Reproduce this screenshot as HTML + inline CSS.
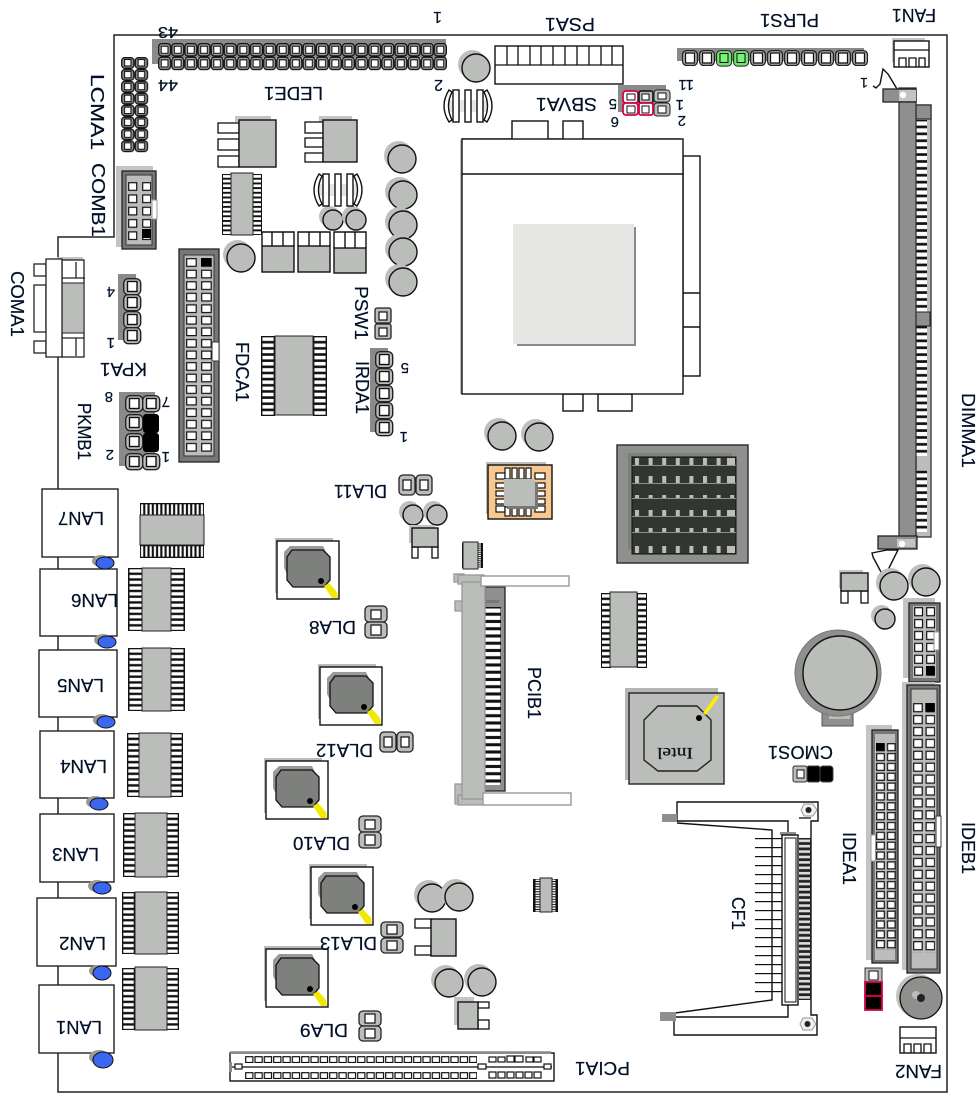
<!DOCTYPE html>
<html><head><meta charset="utf-8"><title>Board layout</title>
<style>
html,body{margin:0;padding:0;background:#fff;width:979px;height:1101px;overflow:hidden}
svg{display:block}
text{font-family:"Liberation Sans",sans-serif;font-size:18px;fill:#001028;stroke:#001028;stroke-width:.2}
.n{font-size:16px}
</style></head><body>
<svg width="979" height="1101" viewBox="0 0 979 1101" xmlns="http://www.w3.org/2000/svg">
<defs>
<pattern id="pv11" width="1" height=".0909" viewBox="0 0 10 10" preserveAspectRatio="none"><rect width="10" height="10" fill="#111"/><rect x="1" y="2.200" width="8" height="5.800" fill="#fff"/></pattern>
<pattern id="pv13" width="1" height=".0769" viewBox="0 0 10 10" preserveAspectRatio="none"><rect width="10" height="10" fill="#111"/><rect x="1" y="2.200" width="8" height="5.800" fill="#fff"/></pattern>
<pattern id="ph15" width=".0667" height="1" viewBox="0 0 10 10" preserveAspectRatio="none"><rect width="10" height="10" fill="#111"/><rect x="2.500" y="1" width="5" height="8" fill="#fff"/></pattern>
<pattern id="lede" patternUnits="userSpaceOnUse" x="158" y="43" width="13.13" height="13.6"><rect x=".7" y=".7" width="11.8" height="12.2" rx="3" fill="#a5a7a4" stroke="#111" stroke-width="1.3"/><rect x="3.200" y="3.200" width="6.800" height="7.200" fill="#fff" stroke="#111" stroke-width="1.1"/></pattern>
<pattern id="lcma" patternUnits="userSpaceOnUse" x="121" y="57" width="13.6" height="11.9"><rect x=".7" y=".7" width="12.2" height="10.5" rx="3" fill="#8e908d" stroke="#111" stroke-width="1.3"/><rect x="3.500" y="2.500" width="6.500" height="6.500" fill="#fff" stroke="#111" stroke-width="1.1"/></pattern>
<pattern id="cF" patternUnits="userSpaceOnUse" x="186" y="258" width="15" height="11.55"><rect x=".7" y=".7" width="9.500" height="7.600" fill="#fff" stroke="#111" stroke-width="1.2"/></pattern>
<pattern id="cB" patternUnits="userSpaceOnUse" x="128" y="182" width="14" height="12.3"><rect x=".7" y=".7" width="8" height="7.600" fill="#fff" stroke="#111" stroke-width="1.2"/></pattern>
<pattern id="cI" patternUnits="userSpaceOnUse" x="913" y="703" width="12.4" height="11.9"><rect x=".7" y=".7" width="8.500" height="8" fill="#fff" stroke="#111" stroke-width="1.2"/></pattern>
<pattern id="cU" patternUnits="userSpaceOnUse" x="914" y="607" width="12" height="11.9"><rect x=".7" y=".7" width="7.800" height="8" fill="#fff" stroke="#111" stroke-width="1.2"/></pattern>
<pattern id="cA" patternUnits="userSpaceOnUse" x="876" y="743" width="10.8" height="9.85"><rect x=".7" y=".7" width="7.600" height="7" fill="#fff" stroke="#111" stroke-width="1.2"/></pattern>
<pattern id="dimm" patternUnits="userSpaceOnUse" x="916" y="120" width="12" height="6.9"><rect width="12" height="6.9" fill="#111"/><rect x=".5" y="1.400" width="10.500" height="4.200" fill="#fff"/></pattern>
<pattern id="cfr" patternUnits="userSpaceOnUse" x="799" y="838" width="12" height="5.4"><rect width="12" height="5.4" fill="#222"/><rect y="1.500" width="11" height="2.600" fill="#ddd"/></pattern>
<pattern id="cfl" patternUnits="userSpaceOnUse" x="757" y="838" width="26" height="9"><rect y="0" width="26" height="1.200" fill="#111"/></pattern>
<pattern id="pcia" patternUnits="userSpaceOnUse" x="245" y="1056" width="9.33" height="16"><rect x=".7" y=".7" width="7.200" height="5.800" fill="#fff" stroke="#111" stroke-width="1.2"/></pattern>
<pattern id="pcib" patternUnits="userSpaceOnUse" x="484" y="607" width="18" height="7.25"><rect width="18" height="7.25" fill="#111"/><rect x="1" y="1.500" width="15.500" height="4.200" fill="#fff"/></pattern>
<pattern id="hs" patternUnits="userSpaceOnUse" x="635" y="0" width="13.6" height="600"><rect width="4" height="600" fill="#bbbdba"/></pattern>
<g id="pin"><rect x=".6" y=".6" width="14.8" height="14.8" rx="4" fill="#bbbdba" stroke="#222" stroke-width="1.3"/><rect x="3.500" y="3" width="9" height="10" fill="#fff" stroke="#111" stroke-width="1.3"/></g>
<g id="pinw"><rect x=".7" y=".7" width="17" height="16" rx="4.500" fill="#bbbdba" stroke="#222" stroke-width="1.4"/><rect x="4.500" y="3.500" width="9.500" height="10" fill="#fff" stroke="#111" stroke-width="1.4"/></g>
<g id="c14"><circle cx="-3.500" cy="-3.500" r="14.5" fill="#bfc0be"/><circle r="14" fill="#bbbdba" stroke="#111" stroke-width="1.4"/></g>
<g id="c10"><circle cx="-3.500" cy="-3.500" r="10.5" fill="#bfc0be"/><circle r="10" fill="#bbbdba" stroke="#111" stroke-width="1.4"/></g>
<g id="coil" stroke="#111" stroke-width="1.4"><rect x="5" y="10" width="44" height="12" fill="#e6e7e5" stroke="none"/><path d="M8 0Q-2 16 8 32L11 30Q4 16 11 2Z" fill="#fff"/><path d="M46 0Q56 16 46 32L43 30Q50 16 43 2Z" fill="#fff"/><rect x="12" y="0" width="6" height="32" fill="#fff"/><rect x="24" y="0" width="6" height="32" fill="#fff"/><rect x="36" y="0" width="6" height="32" fill="#fff"/></g>
<g id="qfp"><rect x="-2" y="-3" width="58" height="55" fill="#bbb"/><rect width="62" height="58" fill="#fff" stroke="#111" stroke-width="1.4"/><path d="M14 6H47L50 12V36H12L8 28V12Z" fill="#999" transform="translate(-1,-1)"/><path d="M15 9H46L53 16V39L47 46H16L10 39V16Z" fill="#7e807d" stroke="#111" stroke-width="1.3"/><circle cx="44" cy="40" r="3" fill="#000"/><path d="M47 45L52 42L60 51L61 57L55 57Z" fill="#f2e800"/></g>
</defs>

<!-- board outline -->
<path d="M114 237V35H947V1092H58V237Z" fill="none" stroke="#222" stroke-width="1.5"/>

<!-- LEDE1 header -->
<rect x="152" y="39" width="294" height="19" fill="#8a8a8a"/>
<rect x="152" y="56" width="8" height="8" fill="#8a8a8a"/>
<rect x="158" y="43" width="289" height="27.2" fill="url(#lede)"/>

<!-- PSA1 -->
<rect x="495" y="46" width="128" height="38" fill="#fff" stroke="#111" stroke-width="1.4"/>
<path d="M495 65H623M507 46V65M518 46V65M530 46V65M541 46V65M553 46V65M565 46V65M577 46V65M589 46V65M601 46V65M612 46V65" stroke="#111" stroke-width="1.3" fill="none"/>

<!-- PLRS1 -->
<rect x="677" y="48" width="187" height="13" fill="#8a8a8a"/>
<g transform="translate(682,50)"><use href="#pin"/></g><g transform="translate(699,50)"><use href="#pin"/></g>
<g transform="translate(716,50)"><rect x=".6" y=".6" width="15" height="15.5" rx="4" fill="#6ee66e" stroke="#222"/><rect x="4" y="3.500" width="8" height="9" fill="#7cf07c" stroke="#111"/></g>
<g transform="translate(733,50)"><rect x=".6" y=".6" width="15" height="15.5" rx="4" fill="#6ee66e" stroke="#222"/><rect x="4" y="3.500" width="8" height="9" fill="#7cf07c" stroke="#111"/></g>
<g transform="translate(750,50)"><use href="#pin"/></g><g transform="translate(767,50)"><use href="#pin"/></g><g transform="translate(784,50)"><use href="#pin"/></g><g transform="translate(801,50)"><use href="#pin"/></g><g transform="translate(818,50)"><use href="#pin"/></g><g transform="translate(835,50)"><use href="#pin"/></g><g transform="translate(852,50)"><use href="#pin"/></g>

<!-- SBVA1 -->
<rect x="618" y="85" width="48" height="27" fill="#8a8a8a"/>
<g fill="#bbbdba" stroke="#222"><rect x="654" y="90" width="16" height="12" rx="3"/><rect x="654" y="103" width="16" height="13" rx="3"/></g>
<g fill="#fff" stroke="#d8004a" stroke-width="1.8"><rect x="623" y="91" width="15" height="12" rx="3"/><rect x="623" y="103" width="15" height="12" rx="3"/><rect x="639" y="91" width="14" height="12" rx="2" fill="#bbbdba" stroke="#222"/><rect x="639" y="103" width="14" height="12" rx="2"/></g>
<g fill="#fff"><rect x="627" y="94" width="8" height="6" stroke="#111"/><rect x="627" y="106" width="8" height="7" stroke="#111"/><rect x="642" y="94" width="7" height="6" stroke="#111"/><rect x="642" y="106" width="7" height="7" stroke="#111"/><rect x="658" y="93" width="8" height="6" stroke="#111"/><rect x="658" y="106" width="8" height="7" stroke="#111"/></g>

<!-- FAN1 -->
<rect x="892" y="38" width="33" height="24" fill="#c4c5c3"/>
<rect x="894" y="41" width="35" height="26" fill="#fff" stroke="#111" stroke-width="1.4"/>
<path d="M894 50H929M899 67V58H906V67M909 67V58H916V67M919 67V58H925V67" fill="none" stroke="#111" stroke-width="1.3"/>

<!-- DIMM -->
<path d="M873 86L876 88L880 84L883 69L888 74L897 89" fill="#fff" stroke="#111" stroke-width="1.4"/>
<rect x="916" y="105" width="15" height="432" fill="#bbbdba" stroke="#333" stroke-width="1.3"/>
<rect x="916" y="105" width="15" height="14" fill="#8e908d" stroke="#333" stroke-width="1.3"/>
<rect x="916" y="120" width="11" height="192" fill="url(#dimm)"/>
<rect x="916" y="326" width="11" height="130" fill="url(#dimm)"/>
<rect x="916" y="470" width="11" height="63" fill="url(#dimm)"/>
<rect x="916" y="312" width="14" height="14" fill="#8e908d" stroke="#222"/>
<rect x="899" y="88" width="17" height="449" fill="#8e908d" stroke="#333" stroke-width="1.3"/>
<rect x="883" y="89" width="33" height="13" fill="#8e908d" stroke="#222" stroke-width="1.3"/>
<rect x="899" y="90" width="17" height="11" fill="#c4c5c3"/><circle cx="903" cy="95" r="3.200" fill="#fff"/>
<path d="M872 553L887 550H898L888 570L881 572L873 557Z" fill="#fff" stroke="#111" stroke-width="1.4"/>
<rect x="878" y="536" width="39" height="13" fill="#8e908d" stroke="#222" stroke-width="1.3"/>
<rect x="897" y="539" width="18" height="8" fill="#c4c5c3"/><circle cx="902" cy="544" r="3.200" fill="#fff"/>

<!-- LCMA1 -->
<rect x="121" y="57" width="27.2" height="95.2" fill="url(#lcma)"/>

<!-- COMB1 -->
<rect x="116" y="166" width="37" height="81" fill="#c4c5c3"/>
<rect x="122" y="171" width="34" height="78" fill="#777" stroke="#222" stroke-width="1.3"/>
<rect x="126" y="175" width="26" height="70" fill="#bbbdba" stroke="#333"/>
<rect x="128" y="182" width="23" height="60" fill="url(#cB)"/>
<rect x="142" y="229" width="9" height="9" fill="#000"/>
<rect x="152" y="200" width="5" height="19" fill="#fff" stroke="#999"/>

<!-- top-left regulators -->
<g fill="#c4c5c3"><rect x="235" y="116" width="36" height="6"/><rect x="319" y="116" width="33" height="6"/></g>
<g fill="#fff" stroke="#111" stroke-width="1.3"><rect x="218" y="123" width="21" height="10"/><rect x="218" y="139" width="21" height="11"/><rect x="218" y="156" width="21" height="11"/><rect x="305" y="122" width="18" height="11"/><rect x="305" y="138" width="18" height="9"/><rect x="305" y="153" width="18" height="9"/></g>
<rect x="239" y="120" width="37" height="47" fill="#bbbdba" stroke="#111" stroke-width="1.4"/>
<rect x="323" y="120" width="34" height="42" fill="#bbbdba" stroke="#111" stroke-width="1.4"/>

<!-- ICs -->
<rect x="222" y="174" width="10" height="61" fill="url(#pv13)"/><rect x="252" y="174" width="10" height="61" fill="url(#pv13)"/><rect x="231" y="173" width="22" height="62" fill="#bbbdba" stroke="#222"/>
<rect x="261" y="336" width="14" height="80" fill="url(#pv13)"/><rect x="313" y="336" width="14" height="80" fill="url(#pv13)"/><rect x="275" y="336" width="38" height="79" fill="#bbbdba" stroke="#222"/>
<rect x="601" y="593" width="10" height="75" fill="url(#pv13)"/><rect x="637" y="593" width="10" height="75" fill="url(#pv13)"/><rect x="610" y="592" width="27" height="75" fill="#bbbdba" stroke="#222"/>

<rect x="128" y="568" width="15" height="63" fill="url(#pv11)"/><rect x="170" y="568" width="15" height="63" fill="url(#pv11)"/><rect x="142" y="568" width="29" height="63" fill="#bbbdba" stroke="#222"/>
<rect x="128" y="648" width="15" height="63" fill="url(#pv11)"/><rect x="170" y="648" width="15" height="63" fill="url(#pv11)"/><rect x="142" y="648" width="29" height="63" fill="#bbbdba" stroke="#222"/>
<rect x="127" y="733" width="13" height="64" fill="url(#pv11)"/><rect x="170" y="733" width="13" height="64" fill="url(#pv11)"/><rect x="139" y="733" width="32" height="64" fill="#bbbdba" stroke="#222"/>
<rect x="123" y="813" width="13" height="64" fill="url(#pv11)"/><rect x="166" y="813" width="13" height="64" fill="url(#pv11)"/><rect x="135" y="813" width="32" height="64" fill="#bbbdba" stroke="#222"/>
<rect x="122" y="892" width="13" height="62" fill="url(#pv11)"/><rect x="166" y="892" width="13" height="62" fill="url(#pv11)"/><rect x="135" y="892" width="32" height="62" fill="#bbbdba" stroke="#222"/>
<rect x="122" y="968" width="13" height="62" fill="url(#pv11)"/><rect x="166" y="968" width="13" height="62" fill="url(#pv11)"/><rect x="135" y="967" width="32" height="63" fill="#bbbdba" stroke="#222"/>

<rect x="140" y="503" width="64" height="13" fill="url(#ph15)"/><rect x="140" y="545" width="64" height="13" fill="url(#ph15)"/><rect x="140" y="515" width="64" height="30" fill="#bbbdba" stroke="#222"/>

<!-- trio -->
<g fill="#fff" stroke="#111" stroke-width="1.4"><path d="M262 246V232H272V246M272 232H283V246M283 232H294V246M298 246V232H309V246M309 232H320V246M320 232H330V246M334 248V232H345V248M345 232H355V248M355 232H366V248"/></g>
<rect x="262" y="246" width="32" height="26" fill="#bbbdba" stroke="#111" stroke-width="1.4"/>
<rect x="298" y="246" width="32" height="26" fill="#bbbdba" stroke="#111" stroke-width="1.4"/>
<rect x="334" y="248" width="32" height="25" fill="#bbbdba" stroke="#111" stroke-width="1.4"/>

<!-- caps -->
<use href="#c14" x="476" y="68"/><use href="#c14" x="402" y="159"/><use href="#c14" x="403" y="195"/><use href="#c14" x="403" y="225"/><use href="#c14" x="403" y="252"/><use href="#c14" x="403" y="282"/>
<use href="#c10" x="333" y="220"/><use href="#c10" x="356" y="220"/><use href="#c14" x="241" y="258"/>
<use href="#c14" x="502" y="436"/><use href="#c14" x="539" y="437"/><use href="#c10" x="413" y="515"/><use href="#c10" x="437" y="515"/>
<use href="#c14" x="894" y="586"/><use href="#c14" x="926" y="582"/><use href="#c10" x="885" y="619"/>
<use href="#c14" x="432" y="898"/><use href="#c14" x="459" y="897"/><use href="#c14" x="449" y="983"/><use href="#c14" x="482" y="982"/>

<use href="#coil" x="441" y="90"/><use href="#coil" x="311" y="174"/>

<!-- FDCA header -->
<rect x="179" y="249" width="40" height="213" fill="#777" stroke="#222" stroke-width="1.3"/>
<rect x="184" y="255" width="30" height="201" fill="#bbbdba" stroke="#333"/>
<rect x="186" y="258" width="27" height="196" fill="url(#cF)"/>
<rect x="201" y="258" width="10" height="8" fill="#000"/>
<rect x="212" y="342" width="7" height="19" fill="#fff" stroke="#333"/>

<!-- COMA1 -->
<rect x="57" y="257" width="26" height="5" fill="#c4c5c3"/>
<g fill="#fff" stroke="#222" stroke-width="1.3"><rect x="34" y="264" width="12" height="12"/><rect x="34" y="341" width="12" height="12"/><rect x="34" y="285" width="12" height="47"/><rect x="62" y="260" width="22" height="97"/></g>
<rect x="62" y="283" width="22" height="50" fill="#bbbdba" stroke="#222"/>
<path d="M62 278H85M62 338H84M76 262V278M76 338V356" stroke="#222" fill="none" stroke-width="1.3"/>
<rect x="46" y="259" width="16" height="98" fill="#fff" stroke="#222" stroke-width="1.3"/>

<!-- KPA1 -->
<rect x="118" y="274" width="18" height="66" fill="#8a8a8a"/>
<use href="#pinw" x="123" y="278"/><use href="#pinw" x="123" y="294"/><use href="#pinw" x="123" y="311"/><use href="#pinw" x="123" y="327"/>

<!-- PKMB1 -->
<rect x="119" y="392" width="36" height="74" fill="#8a8a8a"/>
<use href="#pinw" x="125" y="395"/><use href="#pinw" x="142" y="395"/><use href="#pinw" x="125" y="414"/><use href="#pinw" x="125" y="433"/><use href="#pinw" x="125" y="453"/><use href="#pinw" x="142" y="453"/>
<rect x="143" y="414" width="16" height="19" rx="3" fill="#000"/><rect x="143" y="433" width="16" height="19" rx="3" fill="#000"/>

<!-- PSW1, IRDA1 -->
<g fill="#bbbdba" stroke="#222" stroke-width="1.3"><rect x="375" y="308" width="16" height="15" rx="2"/><rect x="375" y="324" width="16" height="15" rx="2"/></g>
<g fill="#fff" stroke="#111" stroke-width="1.2"><rect x="379" y="312" width="8" height="8"/><rect x="379" y="328" width="8" height="8"/></g>
<rect x="370" y="348" width="18" height="84" fill="#8a8a8a"/>
<use href="#pinw" x="375" y="351"/><use href="#pinw" x="375" y="368"/><use href="#pinw" x="375" y="385"/><use href="#pinw" x="375" y="402"/><use href="#pinw" x="375" y="419"/>

<!-- CPU socket -->
<rect x="461" y="138" width="220" height="3" fill="#bbb"/><rect x="460" y="140" width="2" height="254" fill="#bbb"/>
<g fill="#fff" stroke="#111" stroke-width="1.4"><rect x="512" y="121" width="36" height="20"/><rect x="563" y="121" width="20" height="20"/><rect x="563" y="394" width="20" height="17"/><rect x="598" y="394" width="34" height="17"/><rect x="683" y="156" width="17" height="220"/><rect x="462" y="139" width="221" height="255"/></g>
<path d="M462 174H683M683 293H700M683 327H700" stroke="#111" stroke-width="1.4"/>
<rect x="517" y="227" width="119" height="119" fill="#8a8a8a"/>
<rect x="513" y="224" width="121" height="120" fill="#e6e7e5"/>

<!-- orange chip -->
<rect x="486" y="462" width="60" height="52" fill="#bbb"/>
<rect x="488" y="465" width="64" height="54" fill="#f9c890" stroke="#111" stroke-width="1.4"/>
<g fill="#fff" stroke="#111" stroke-width="1.2"><rect x="496" y="473" width="9" height="6"/><rect x="496" y="483" width="9" height="5"/><rect x="496" y="491" width="9" height="5"/><rect x="496" y="499" width="9" height="5"/><rect x="496" y="506" width="9" height="6"/><rect x="535" y="473" width="10" height="6"/><rect x="535" y="483" width="10" height="5"/><rect x="535" y="491" width="10" height="5"/><rect x="535" y="499" width="10" height="5"/><rect x="535" y="506" width="10" height="6"/><rect x="505" y="468" width="5" height="11"/><rect x="512" y="468" width="5" height="11"/><rect x="519" y="468" width="5" height="11"/><rect x="526" y="468" width="5" height="11"/><rect x="505" y="507" width="5" height="9"/><rect x="512" y="507" width="5" height="9"/><rect x="519" y="507" width="5" height="9"/><rect x="526" y="507" width="5" height="9"/></g>
<rect x="507" y="482" width="31" height="27" fill="#777"/>
<rect x="504" y="479" width="31" height="27" fill="#bbbdba"/>

<!-- heatsink -->
<rect x="617" y="445" width="131" height="118" fill="#8e908d" stroke="#333" stroke-width="1.5"/>
<rect x="628" y="453" width="104" height="96" fill="#7e807d"/>
<rect x="632" y="457" width="104" height="97" fill="#333530" stroke="#111"/>
<rect x="635" y="458" width="100" height="7" fill="url(#hs)"/><rect x="635" y="476" width="100" height="7" fill="url(#hs)"/><rect x="635" y="495" width="100" height="3" fill="url(#hs)"/><rect x="635" y="510" width="100" height="6" fill="url(#hs)"/><rect x="635" y="528" width="100" height="4" fill="url(#hs)"/><rect x="635" y="546" width="100" height="7" fill="url(#hs)"/>
<path d="M632 465.5H736M632 483.5H736M632 498.5H736M632 516.5H736M632 532.5H736" stroke="#8e908d"/>
<g fill="#bbbdba"><rect x="727" y="458" width="8" height="7"/><rect x="727" y="476" width="8" height="7"/><rect x="727" y="510" width="8" height="6"/><rect x="727" y="546" width="8" height="7"/></g>

<!-- SOTs -->
<g fill="#fff" stroke="#111" stroke-width="1.3"><rect x="412" y="547" width="6" height="11"/><rect x="432" y="547" width="6" height="11"/><rect x="841" y="591" width="7" height="12"/><rect x="861" y="591" width="7" height="12"/><rect x="415" y="919" width="16" height="9"/><rect x="415" y="946" width="16" height="9"/><rect x="478" y="1002" width="11" height="6"/><rect x="478" y="1020" width="11" height="9"/></g>
<rect x="409" y="525" width="26" height="18" fill="#c4c5c3"/><rect x="839" y="570" width="24" height="18" fill="#c4c5c3"/><rect x="454" y="997" width="20" height="28" fill="#c4c5c3"/>
<g fill="#bbbdba" stroke="#111" stroke-width="1.4"><rect x="412" y="528" width="26" height="19"/><rect x="841" y="573" width="27" height="18"/><rect x="431" y="919" width="25" height="37"/><rect x="458" y="1002" width="20" height="27"/></g>

<!-- small ICs -->
<rect x="462" y="543" width="21" height="25" fill="url(#pv13)"/><rect x="463" y="542" width="15" height="27" fill="#bbbdba" stroke="#222"/>
<rect x="533" y="879" width="25" height="33" fill="url(#pv13)"/><rect x="540" y="878" width="12" height="34" fill="#bbbdba" stroke="#222"/>

<!-- PCIB1 -->
<rect x="485" y="587" width="20" height="204" fill="#8e908d" stroke="#222" stroke-width="1.3"/>
<rect x="484" y="607" width="17" height="178" fill="url(#pcib)"/>
<rect x="484" y="600" width="15" height="3" fill="#777"/>
<g fill="#bbbdba" stroke="#999" stroke-width="1.3"><rect x="454" y="574" width="10" height="8"/><rect x="458" y="575" width="26" height="9"/><rect x="455" y="601" width="8" height="10"/><rect x="455" y="784" width="8" height="20"/><rect x="458" y="795" width="26" height="10"/><rect x="462" y="582" width="23" height="217"/></g>
<rect x="481" y="576" width="88" height="10" fill="#fff" stroke="#999" stroke-width="1.4"/>
<rect x="483" y="793" width="88" height="12" fill="#fff" stroke="#999" stroke-width="1.4"/>

<!-- Intel -->
<rect x="625" y="688" width="93" height="92" fill="#b5b5b5"/>
<rect x="629" y="693" width="95" height="91" fill="#bbbdba" stroke="#222" stroke-width="1.4"/>
<path d="M658 706H697L711 720V760L697 771H658L644 760V720Z" fill="#bbbdba" stroke="#222" stroke-width="1.4"/>
<path d="M703 713L716 695L719 697L706 715Z" fill="#ffee00"/>
<circle cx="699" cy="718" r="3" fill="#000"/>
<text transform="translate(693,748) rotate(180)" textLength="36" lengthAdjust="spacingAndGlyphs" style="font-family:'Liberation Serif',serif;font-size:16px;fill:#111">Intel</text>

<!-- QFPs -->
<use href="#qfp" x="277" y="541"/><use href="#qfp" x="320" y="667"/><use href="#qfp" x="266" y="761"/><use href="#qfp" x="311" y="867"/><use href="#qfp" x="266" y="949"/>

<!-- DLA jumpers -->
<g id="dj"><g fill="#bbbdba" stroke="#222" stroke-width="1.3">
<rect x="365" y="606" width="22" height="16" rx="4"/><rect x="365" y="622" width="22" height="16" rx="4"/>
<rect x="359" y="816" width="22" height="16" rx="4"/><rect x="359" y="832" width="22" height="16" rx="4"/>
<rect x="381" y="922" width="22" height="15" rx="4"/><rect x="381" y="938" width="22" height="15" rx="4"/>
<rect x="359" y="1011" width="22" height="15" rx="4"/><rect x="359" y="1026" width="22" height="15" rx="4"/>
<rect x="399" y="475" width="16" height="20" rx="4"/><rect x="416" y="475" width="16" height="20" rx="4"/>
<rect x="380" y="732" width="16" height="20" rx="4"/><rect x="397" y="732" width="16" height="20" rx="4"/></g>
<g fill="#fff" stroke="#111" stroke-width="1.2">
<rect x="371" y="610" width="10" height="9"/><rect x="371" y="625" width="10" height="10"/>
<rect x="365" y="820" width="10" height="9"/><rect x="365" y="835" width="10" height="10"/>
<rect x="387" y="925" width="10" height="9"/><rect x="387" y="941" width="10" height="9"/>
<rect x="365" y="1014" width="10" height="9"/><rect x="365" y="1029" width="10" height="9"/>
<rect x="403" y="480" width="8" height="10"/><rect x="420" y="480" width="8" height="10"/>
<rect x="384" y="737" width="8" height="10"/><rect x="401" y="737" width="8" height="10"/></g></g>

<!-- LAN boxes -->
<g fill="#fff" stroke="#222" stroke-width="1.4"><rect x="42" y="489" width="76" height="68"/><rect x="40" y="569" width="77" height="67"/><rect x="39" y="650" width="78" height="67"/><rect x="40" y="731" width="74" height="67"/><rect x="40" y="814" width="74" height="68"/><rect x="37" y="898" width="79" height="68"/><rect x="39" y="985" width="75" height="68"/></g>
<g fill="#9a9a9a"><ellipse cx="101" cy="561" rx="9" ry="6"/><ellipse cx="103" cy="640" rx="9" ry="6"/><ellipse cx="102" cy="720" rx="9" ry="6"/><ellipse cx="95" cy="802" rx="9" ry="6"/><ellipse cx="97" cy="886" rx="9" ry="6"/><ellipse cx="98" cy="971" rx="9" ry="6"/><ellipse cx="99" cy="1057" rx="10" ry="7"/></g>
<g fill="#3a66f0" stroke="#111" stroke-width="1"><ellipse cx="105" cy="563" rx="9" ry="6"/><ellipse cx="107" cy="642" rx="9" ry="6"/><ellipse cx="106" cy="722" rx="9" ry="6"/><ellipse cx="99" cy="804" rx="9" ry="6"/><ellipse cx="102" cy="888" rx="9" ry="6"/><ellipse cx="102" cy="973" rx="9" ry="7"/><ellipse cx="103" cy="1060" rx="10" ry="8"/></g>

<!-- PCIA1 -->
<rect x="230" y="1053" width="324" height="28" fill="#fff" stroke="#111" stroke-width="1.4"/>
<path d="M230 1052.5H551" stroke="#888" stroke-width="2.5"/><path d="M230 1067H552" stroke="#666" stroke-width="2"/>
<rect x="229" y="1062" width="3" height="10" fill="#888"/>
<rect x="245" y="1056" width="232" height="7" fill="url(#pcia)"/><rect x="245" y="1072" width="232" height="7" fill="url(#pcia)"/>
<g fill="#fff" stroke="#111" stroke-width="1.2"><rect x="489" y="1057" width="7" height="5"/><rect x="498" y="1057" width="7" height="5"/><rect x="507" y="1056" width="7" height="6"/><rect x="515" y="1056" width="8" height="6"/><rect x="526" y="1057" width="7" height="5"/><rect x="534" y="1057" width="7" height="5"/><rect x="489" y="1072" width="7" height="6"/><rect x="498" y="1072" width="7" height="6"/><rect x="507" y="1072" width="7" height="6"/><rect x="516" y="1072" width="7" height="6"/><rect x="525" y="1072" width="7" height="6"/><rect x="534" y="1072" width="7" height="6"/><rect x="235" y="1064" width="7" height="5"/><rect x="478" y="1064" width="8" height="5"/><rect x="544" y="1064" width="7" height="5"/></g>

<!-- CF1 -->
<path d="M677 822V802H818V821H811V1015H817V1035H674V1017H788V1005M788 835V821H677M677 823L772 830V1000L675 1013" fill="#fff" stroke="#111" stroke-width="1.4"/>
<path d="M799 818H811" stroke="#111" stroke-width="1.3"/>
<rect x="662" y="814" width="15" height="8" fill="#8e908d"/><rect x="660" y="1012" width="16" height="9" fill="#8e908d"/>
<rect x="755" y="838" width="27" height="160" fill="url(#cfl)"/>
<rect x="799" y="838" width="12" height="162" fill="url(#cfr)"/>
<rect x="780" y="832" width="16" height="3" fill="#8e908d"/>
<rect x="782" y="835" width="16" height="170" fill="#fff" stroke="#111" stroke-width="1.4"/>
<rect x="785" y="838" width="11" height="164" fill="#fff" stroke="#111"/>
<g><path d="M801 810L804 804H813L817 810L813 816H804Z" fill="#eee" stroke="#999"/><circle cx="808.500" cy="810" r="3" fill="#222"/><path d="M800 1024L803 1018H812L816 1024L812 1030H803Z" fill="#eee" stroke="#999"/><circle cx="807.500" cy="1024" r="3" fill="#222"/></g>

<!-- CMOS pins -->
<rect x="793" y="766" width="14" height="16" rx="2" fill="#bbbdba" stroke="#333"/><rect x="797" y="770" width="7" height="8" fill="#fff" stroke="#111"/>
<rect x="807" y="766" width="13" height="16" rx="2" fill="#000" stroke="#444"/><rect x="820" y="766" width="13" height="16" rx="3" fill="#000" stroke="#444"/>

<!-- battery -->
<rect x="822" y="708" width="31" height="18" fill="#8e908d" stroke="#555"/>
<rect x="829" y="711" width="21" height="8" fill="#bbbdba"/>
<circle cx="838" cy="673" r="43" fill="#8e908d" stroke="#777"/>
<circle cx="840" cy="673" r="37" fill="#bbbdba" stroke="#111" stroke-width="1.4"/>

<!-- upper right connector -->
<rect x="903" y="598" width="32" height="80" fill="#c4c5c3"/>
<rect x="909" y="603" width="31" height="79" fill="#777" stroke="#222" stroke-width="1.3"/>
<rect x="913" y="606" width="23" height="72" fill="#bbbdba"/>
<rect x="914" y="607" width="21" height="70" fill="url(#cU)"/>
<rect x="926" y="666" width="8.500" height="9" fill="#000"/>
<rect x="934" y="632" width="5" height="18" fill="#fff" stroke="#999"/>

<!-- IDEB1 -->
<rect x="902" y="682" width="33" height="288" fill="#c4c5c3"/>
<rect x="907" y="685" width="33" height="288" fill="#777" stroke="#222" stroke-width="1.3"/>
<rect x="911" y="689" width="26" height="280" fill="#bbbdba" stroke="#333"/>
<rect x="913" y="703" width="22" height="250" fill="url(#cI)"/>
<rect x="925.400" y="703" width="9" height="8.500" fill="#000"/>
<rect x="936" y="816" width="5" height="31" fill="#fff" stroke="#333"/>

<!-- IDEA1 -->
<rect x="866" y="725" width="26" height="235" fill="#c4c5c3"/>
<rect x="872" y="730" width="26" height="233" fill="#777" stroke="#222" stroke-width="1.3"/>
<rect x="875" y="734" width="20" height="226" fill="#bbbdba"/>
<rect x="876" y="743" width="21" height="207" fill="url(#cA)"/>
<rect x="876" y="743" width="8" height="7.500" fill="#000"/>
<rect x="871" y="835" width="4.500" height="26" fill="#fff" stroke="#999"/>

<!-- red jumper -->
<rect x="865" y="968" width="17" height="14" fill="#bbbdba" stroke="#333"/><rect x="869" y="971" width="9" height="9" fill="#fff" stroke="#111"/>
<rect x="865" y="982" width="17" height="14" fill="#000" stroke="#d8004a" stroke-width="1.8"/><rect x="865" y="996" width="17" height="14" fill="#000" stroke="#d8004a" stroke-width="1.8"/>

<!-- fan 2 hub -->
<circle cx="918" cy="996" r="22" fill="#c4c5c3"/>
<circle cx="921" cy="998" r="21" fill="#8e908d" stroke="#111" stroke-width="1.3"/>
<circle cx="916" cy="995" r="4" fill="#bbbdba"/><circle cx="921" cy="998" r="4" fill="#222"/>

<!-- FAN2 -->
<rect x="900" y="1027" width="36" height="26" fill="#fff" stroke="#111" stroke-width="1.4"/>
<path d="M900 1038H936M904 1053V1044H911V1053M914 1053V1044H921V1053M924 1053V1044H931V1053" fill="none" stroke="#111" stroke-width="1.3"/>

<!-- upside-down labels -->
<g>
<text class="n" transform="translate(178,27) rotate(180)" textLength="20" lengthAdjust="spacingAndGlyphs">43</text>
<text class="n" transform="translate(442,12) rotate(180)">1</text>
<text class="n" transform="translate(178,80) rotate(180)" textLength="20" lengthAdjust="spacingAndGlyphs">44</text>
<text class="n" transform="translate(443,80) rotate(180)">2</text>
<text transform="translate(323,87) rotate(180)" textLength="59" lengthAdjust="spacingAndGlyphs">LEDE1</text>
<text transform="translate(595,18) rotate(180)" textLength="50" lengthAdjust="spacingAndGlyphs">PSA1</text>
<text transform="translate(819,14) rotate(180)" textLength="59" lengthAdjust="spacingAndGlyphs">PLRS1</text>
<text transform="translate(936,9) rotate(180)" textLength="44" lengthAdjust="spacingAndGlyphs">FAN1</text>
<text class="n" transform="translate(868,78) rotate(180)" style="font-size:14px">1</text>
<text class="n" transform="translate(694,80) rotate(180)" style="font-size:15px">11</text>
<text class="n" transform="translate(684,100) rotate(180)" style="font-size:15px">1</text>
<text class="n" transform="translate(686,116) rotate(180)" style="font-size:15px">2</text>
<text class="n" transform="translate(617,99) rotate(180)" style="font-size:15px">5</text>
<text class="n" transform="translate(619,117) rotate(180)" style="font-size:15px">6</text>
<text transform="translate(597,98) rotate(180)" textLength="61" lengthAdjust="spacingAndGlyphs">SBVA1</text>
<text transform="translate(147,363) rotate(180)" textLength="47" lengthAdjust="spacingAndGlyphs">KPA1</text>
<text class="n" transform="translate(115,287) rotate(180)" style="font-size:15px">4</text>
<text class="n" transform="translate(115,338) rotate(180)" style="font-size:15px">1</text>
<text class="n" transform="translate(113,392) rotate(180)" style="font-size:15px">8</text>
<text class="n" transform="translate(170,397) rotate(180)" style="font-size:15px">7</text>
<text class="n" transform="translate(114,450) rotate(180)" style="font-size:15px">2</text>
<text class="n" transform="translate(170,452) rotate(180)" style="font-size:15px">1</text>
<text class="n" transform="translate(409,363) rotate(180)" style="font-size:15px">5</text>
<text class="n" transform="translate(408,432) rotate(180)" style="font-size:15px">1</text>
<text transform="translate(387,485) rotate(180)" textLength="53" lengthAdjust="spacingAndGlyphs">DLA11</text>
<text transform="translate(104,512) rotate(180)" textLength="46" lengthAdjust="spacingAndGlyphs">LAN7</text>
<text transform="translate(118,594) rotate(180)" textLength="47" lengthAdjust="spacingAndGlyphs">LAN6</text>
<text transform="translate(104,679) rotate(180)" textLength="47" lengthAdjust="spacingAndGlyphs">LAN5</text>
<text transform="translate(107,760) rotate(180)" textLength="47" lengthAdjust="spacingAndGlyphs">LAN4</text>
<text transform="translate(99,848) rotate(180)" textLength="47" lengthAdjust="spacingAndGlyphs">LAN3</text>
<text transform="translate(106,937) rotate(180)" textLength="47" lengthAdjust="spacingAndGlyphs">LAN2</text>
<text transform="translate(102,1021) rotate(180)" textLength="46" lengthAdjust="spacingAndGlyphs">LAN1</text>
<text transform="translate(356,621) rotate(180)" textLength="47" lengthAdjust="spacingAndGlyphs">DLA8</text>
<text transform="translate(373,744) rotate(180)" textLength="57" lengthAdjust="spacingAndGlyphs">DLA12</text>
<text transform="translate(350,837) rotate(180)" textLength="57" lengthAdjust="spacingAndGlyphs">DLA10</text>
<text transform="translate(377,937) rotate(180)" textLength="57" lengthAdjust="spacingAndGlyphs">DLA13</text>
<text transform="translate(348,1024) rotate(180)" textLength="48" lengthAdjust="spacingAndGlyphs">DLA9</text>
<text transform="translate(630,1062) rotate(180)" textLength="55" lengthAdjust="spacingAndGlyphs">PCIA1</text>
<text transform="translate(942,1065) rotate(180)" textLength="47" lengthAdjust="spacingAndGlyphs">FAN2</text>
<text transform="translate(833,746) rotate(180)" textLength="65" lengthAdjust="spacingAndGlyphs">CMOS1</text>
</g>

<!-- side labels -->
<g>
<text transform="translate(91,74) rotate(90)" textLength="76" lengthAdjust="spacingAndGlyphs">LCMA1</text>
<text transform="translate(92,163) rotate(90)" textLength="74" lengthAdjust="spacingAndGlyphs">COMB1</text>
<text transform="translate(11,271) rotate(90)" textLength="66" lengthAdjust="spacingAndGlyphs">COMA1</text>
<text transform="translate(78,403) rotate(90)" textLength="57" lengthAdjust="spacingAndGlyphs">PKMB1</text>
<text transform="translate(236,342) rotate(90)" textLength="60" lengthAdjust="spacingAndGlyphs">FDCA1</text>
<text transform="translate(355,286) rotate(90)" textLength="54" lengthAdjust="spacingAndGlyphs">PSW1</text>
<text transform="translate(356,361) rotate(90)" textLength="53" lengthAdjust="spacingAndGlyphs">IRDA1</text>
<text transform="translate(962,393) rotate(90)" textLength="75" lengthAdjust="spacingAndGlyphs">DIMMA1</text>
<text transform="translate(528,667) rotate(90)" textLength="52" lengthAdjust="spacingAndGlyphs">PCIB1</text>
<text transform="translate(732,897) rotate(90)" textLength="33" lengthAdjust="spacingAndGlyphs">CF1</text>
<text transform="translate(843,832) rotate(90)" textLength="53" lengthAdjust="spacingAndGlyphs">IDEA1</text>
<text transform="translate(962,822) rotate(90)" textLength="52" lengthAdjust="spacingAndGlyphs">IDEB1</text>
</g>
</svg>
</body></html>
